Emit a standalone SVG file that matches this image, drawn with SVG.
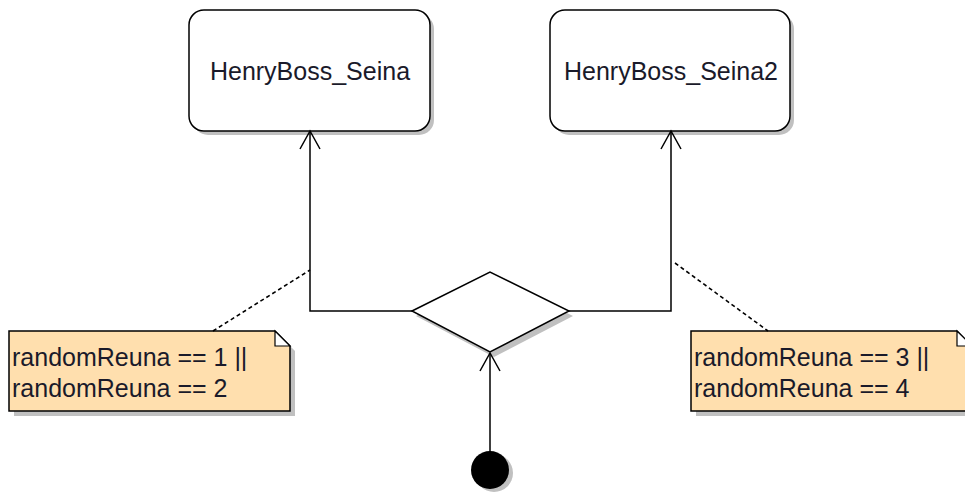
<svg xmlns="http://www.w3.org/2000/svg" width="965" height="492" viewBox="0 0 965 492">
<style>
.shadow{fill:#c0c0c0;stroke:none}
.state{fill:#ffffff;stroke:#000000;stroke-width:1.5}
.note{fill:#ffdfae;stroke:#000000;stroke-width:1.5}
.fold{fill:#ffffff;stroke:#000000;stroke-width:1.2}
.t{font-family:"Liberation Sans",Arial,sans-serif;font-size:25px;fill:#1a1a2a}
.line{fill:none;stroke:#000000;stroke-width:1.5}
.dash{fill:none;stroke:#000000;stroke-width:1.6;stroke-dasharray:4,3}
.head{fill:none;stroke:#000000;stroke-width:1.5}
</style>
<rect width="965" height="492" fill="#ffffff"/>
<g id="state1">
<rect class="shadow" x="193" y="14" width="241" height="121" rx="15"/>
<rect class="state" x="189" y="10" width="241" height="121" rx="15"/>
<text class="t" x="310" y="80" text-anchor="middle">HenryBoss_Seina</text>
</g>
<g id="state2">
<rect class="shadow" x="554" y="14" width="240" height="121" rx="15"/>
<rect class="state" x="550" y="10" width="240" height="121" rx="15"/>
<text class="t" x="671" y="80" text-anchor="middle">HenryBoss_Seina2</text>
</g>
<g id="decision">
<polygon class="shadow" points="416,316 494,277 573,316 494,357"/>
<polygon class="state" points="412,311 490,272 569,311 490,352"/>
</g>
<g id="initial">
<circle class="shadow" cx="494" cy="473" r="19"/>
<circle cx="490" cy="470" r="19" fill="#000000"/>
</g>
<g id="note1">
<path class="shadow" d="M14,336 L280,336 L295,351 L295,416 L14,416 Z"/>
<path class="note" d="M9,331 L275,331 L290,346 L290,411 L9,411 Z"/>
<path class="fold" d="M275,331 L275,346 L290,346 Z"/>
<text class="t" x="12" y="366">randomReuna == 1 ||</text>
<text class="t" x="12" y="397">randomReuna == 2</text>
</g>
<g id="note2">
<path class="shadow" d="M696,336 L962,336 L977,351 L977,416 L696,416 Z"/>
<path class="note" d="M691,331 L957,331 L972,346 L972,411 L691,411 Z"/>
<path class="fold" d="M957,331 L957,346 L972,346 Z"/>
<text class="t" x="694" y="366">randomReuna == 3 ||</text>
<text class="t" x="694" y="397">randomReuna == 4</text>
</g>
<g id="connectors">
<path class="line" d="M310,131 V311 H412"/>
<path class="head" d="M300,149 L310,131 L320,149"/>
<path class="line" d="M569,311 H671 V131"/>
<path class="head" d="M661,149 L671,131 L681,149"/>
<path class="line" d="M490,452 V353"/>
<path class="head" d="M480,371 L490,353 L500,371"/>
<path class="dash" d="M213,331 L310,270"/>
<path class="dash" d="M675,263 L768,331"/>
</g>
</svg>
